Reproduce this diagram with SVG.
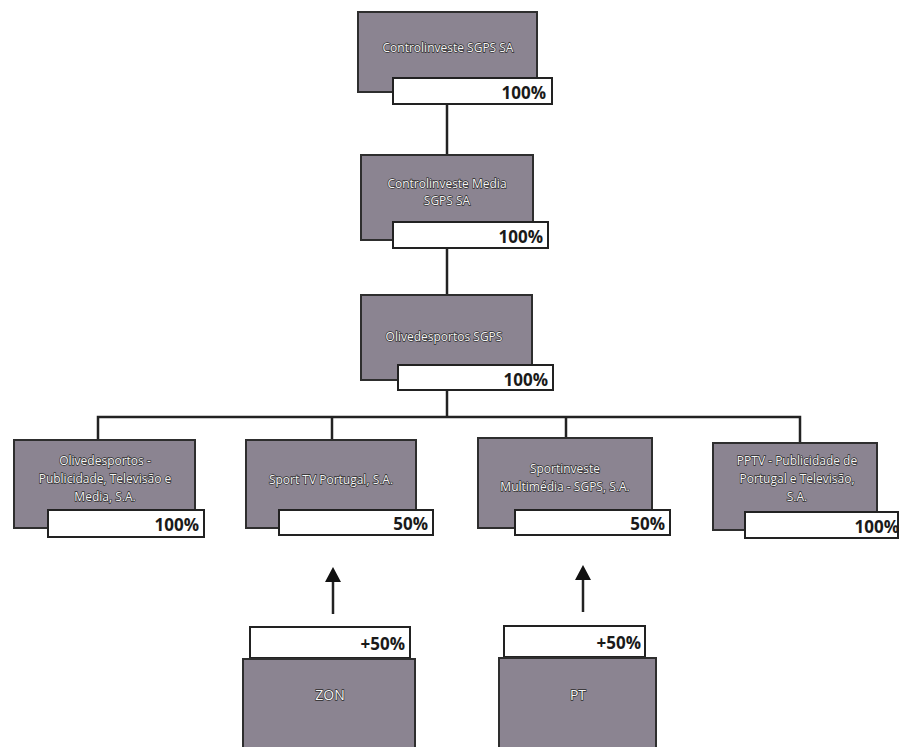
<svg xmlns="http://www.w3.org/2000/svg" width="899" height="747" viewBox="0 0 899 747">
<style>
.box{fill:#8b8491;stroke:#2e2e2e;stroke-width:2}
.lab{fill:#ffffff;stroke:#222;stroke-width:2}
.t{font-family:"Open Sans","Liberation Sans",sans-serif;font-size:12px;fill:#f6f6f6;stroke:#2a2a2a;stroke-width:1.3;paint-order:stroke;text-anchor:middle}
.p{font-family:"Open Sans","Liberation Sans",sans-serif;font-size:17px;font-weight:bold;fill:#1a1a1a;text-anchor:end}
.big{font-size:14px}
.c{stroke:#222;stroke-width:2.5;fill:none}
</style>
<rect width="899" height="747" fill="#ffffff"/>
<g id="connectors">
<line class="c" x1="447" y1="104" x2="447" y2="155"/>
<line class="c" x1="447" y1="248" x2="447" y2="295"/>
<line class="c" x1="447" y1="390" x2="447" y2="417"/>
<polyline class="c" points="98,440 98,417 800,417 800,443"/>
<line class="c" x1="332" y1="417" x2="332" y2="440"/>
<line class="c" x1="566" y1="417" x2="566" y2="438"/>
<line class="c" x1="333" y1="614" x2="333" y2="582"/>
<path d="M325,582 L333,567 L341,582 Z" fill="#111"/>
<line class="c" x1="583" y1="612" x2="583" y2="580"/>
<path d="M575,580 L583,565 L591,580 Z" fill="#111"/>
</g>
<g id="n1">
<rect class="box" x="358" y="12" width="179" height="80"/>
<text class="t" x="448" y="52">Controlinveste SGPS SA</text>
<rect class="lab" x="393" y="78" width="159" height="26"/>
<text class="p" x="546" y="99">100%</text>
</g>
<g id="n2">
<rect class="box" x="361" y="155" width="172" height="85"/>
<text class="t" x="447" y="188">Controlinveste Media</text>
<text class="t" x="447" y="205">SGPS SA</text>
<rect class="lab" x="393" y="222" width="155" height="26"/>
<text class="p" x="543" y="243">100%</text>
</g>
<g id="n3">
<rect class="box" x="361" y="295" width="171" height="85"/>
<text class="t" x="444" y="341">Olivedesportos SGPS</text>
<rect class="lab" x="398" y="365" width="155" height="25"/>
<text class="p" x="548" y="386">100%</text>
</g>
<g id="nA">
<rect class="box" x="14" y="440" width="181" height="88"/>
<text class="t" x="105" y="465">Olivedesportos -</text>
<text class="t" x="105" y="483">Publicidade, Televisão e</text>
<text class="t" x="105" y="501">Media, S.A.</text>
<rect class="lab" x="48" y="510" width="156" height="27"/>
<text class="p" x="199" y="531">100%</text>
</g>
<g id="nB">
<rect class="box" x="246" y="440" width="170" height="88"/>
<text class="t" x="331" y="484">Sport TV Portugal, S.A.</text>
<rect class="lab" x="279" y="510" width="154" height="25"/>
<text class="p" x="428" y="530">50%</text>
</g>
<g id="nC">
<rect class="box" x="478" y="438" width="174" height="90"/>
<text class="t" x="565" y="473">Sportinveste</text>
<text class="t" x="565" y="491">Multimédia - SGPS, S.A.</text>
<rect class="lab" x="515" y="510" width="155" height="25"/>
<text class="p" x="665" y="530">50%</text>
</g>
<g id="nD">
<rect class="box" x="713" y="443" width="164" height="87"/>
<text class="t" x="797" y="465">PPTV - Publicidade de</text>
<text class="t" x="797" y="483">Portugal e Televisão,</text>
<text class="t" x="797" y="501">S.A.</text>
<rect class="lab" x="745" y="512" width="153" height="26"/>
<text class="p" x="899" y="533">100%</text>
</g>
<g id="zon">
<rect class="lab" x="250" y="627" width="160" height="31"/>
<text class="p" x="405" y="650">+50%</text>
<rect class="box" x="243" y="659" width="172" height="95"/>
<text class="t big" x="330" y="700">ZON</text>
</g>
<g id="pt">
<rect class="lab" x="504" y="626" width="141" height="31"/>
<text class="p" x="641" y="649">+50%</text>
<rect class="box" x="499" y="658" width="157" height="96"/>
<text class="t big" x="578" y="700">PT</text>
</g>
</svg>
